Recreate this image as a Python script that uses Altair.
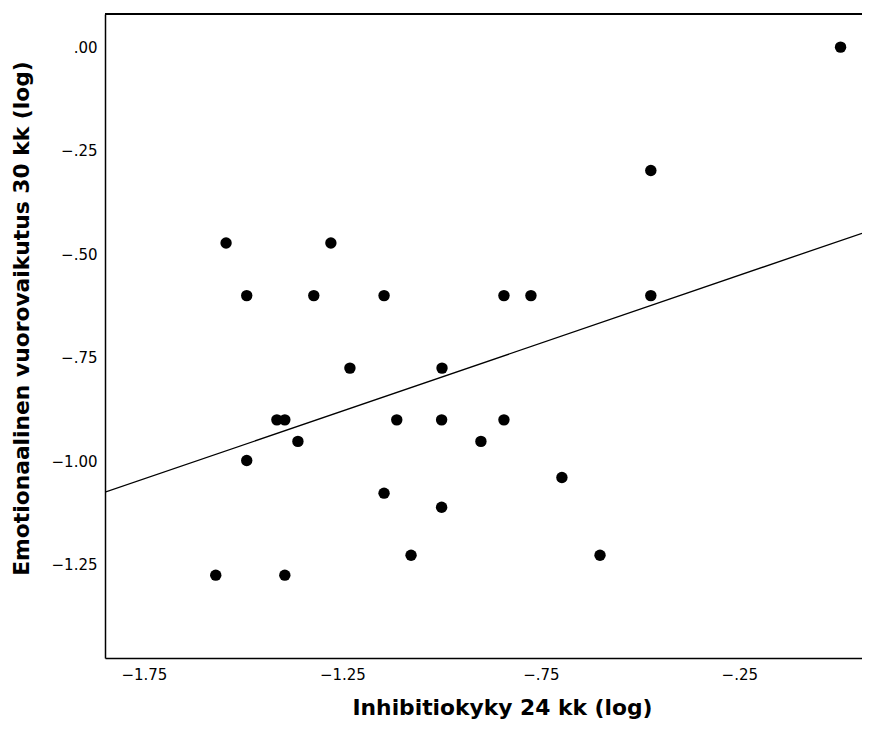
import altair as alt
import pandas as pd

x_vals = [0.005, -0.473, -0.473, -1.543, -1.279, -1.491, -1.322, -1.145, -0.843, -0.775,
          -1.231, -0.999, -1.415, -1.395, -1.113, -1.0, -0.843, -1.362, -0.901, -1.491,
          -0.697, -1.145, -1.0, -1.077, -0.601, -1.569, -1.395]
y_vals = [0.0, -0.298, -0.60, -0.473, -0.473, -0.60, -0.60, -0.60, -0.60, -0.60,
          -0.775, -0.775, -0.90, -0.90, -0.90, -0.90, -0.90, -0.952, -0.952, -0.998,
          -1.039, -1.077, -1.111, -1.227, -1.227, -1.275, -1.275]
x_ticks = [-1.75, -1.25, -0.75, -0.25]
y_ticks = [0.0, -0.25, -0.5, -0.75, -1.0, -1.25]
x_domain = [-1.848, 0.059]
y_domain = [-1.475, 0.08]

W, H = 757, 644

df = pd.DataFrame({"x": x_vals, "y": y_vals})

lbl = "replace(format(datum.value, '.2f'), '0.', '.')"

xenc = alt.X("x:Q", scale=alt.Scale(domain=x_domain, nice=False, zero=False),
             axis=alt.Axis(values=x_ticks, labelExpr=lbl, title="Inhibitiokyky 24 kk (log)",
                           domain=True, ticks=False, grid=False, labelPadding=9,
                           titlePadding=15, titleX=397))
yenc = alt.Y("y:Q", scale=alt.Scale(domain=y_domain, nice=False, zero=False),
             axis=alt.Axis(values=y_ticks, labelExpr=lbl,
                           title="Emotionaalinen vuorovaikutus 30 kk (log)",
                           domain=True, ticks=False, grid=False, labelPadding=8,
                           titlePadding=18, titleY=304))

base = alt.Chart(df)
points = base.mark_circle(size=130, color="black", opacity=1).encode(x=xenc, y=yenc)
line = base.transform_regression("x", "y", extent=x_domain).mark_line(
    color="black", strokeWidth=1.3, clip=True).encode(x=xenc, y=yenc)
top = base.mark_rule(color="black", strokeWidth=1.5).encode(
    x=alt.value(0), x2=alt.value(W), y=alt.value(0))

chart = (line + points + top).properties(
    width=W, height=H,
    autosize=alt.AutoSizeParams(type="none"),
    padding={"left": 97, "top": 6, "right": 0, "bottom": 64},
).configure_view(stroke=None).configure_axis(
    labelFont="DejaVu Sans", labelFontSize=15, labelColor="black",
    titleFont="DejaVu Sans", titleFontSize=21.8, titleFontWeight="bold", titleColor="black",
    domainColor="black", domainWidth=1.5,
)

chart.save("out.html", embed_options={"renderer": "svg", "actions": False})
